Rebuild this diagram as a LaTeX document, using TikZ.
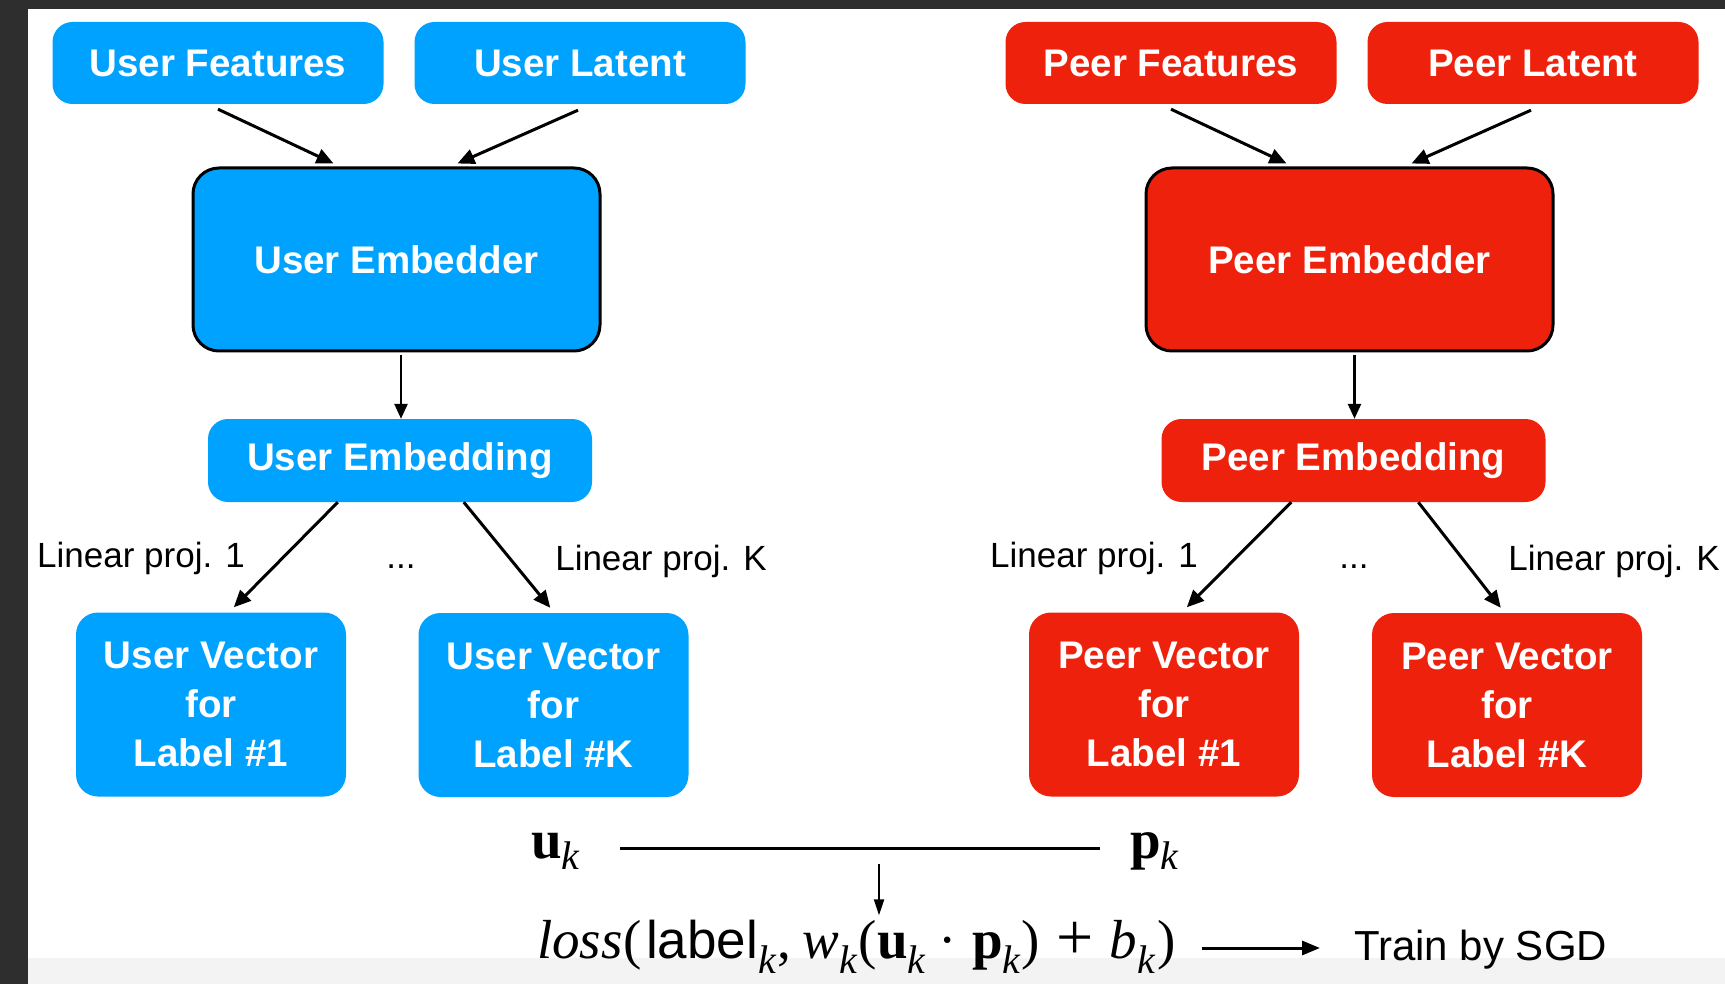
\documentclass[tikz,border=0pt]{standalone}
\usepackage{fontspec}
\setmainfont{Liberation Sans}
\newfontfamily\tms{Liberation Serif}
\newfontfamily\hel{Liberation Sans}
\usetikzlibrary{arrows.meta,calc}
\definecolor{kblue}{RGB}{0,162,255}
\definecolor{kred}{RGB}{238,34,12}
\definecolor{frame}{RGB}{46,46,46}
\definecolor{strip}{RGB}{243,243,243}
\newcommand{\mysubk}{\raisebox{-15pt}{\fontsize{40}{40}\selectfont\tms\itshape k}}
\newcommand{\mysubkk}{\raisebox{-11pt}{\fontsize{40}{40}\selectfont\tms\itshape k}}
\begin{document}
\begin{tikzpicture}[x=1pt,y=-1pt,
  box/.style={rounded corners=20pt, inner sep=0pt, text=white, align=center,
    font=\fontsize{38.5}{49}\selectfont\bfseries},
  ublue/.style={box, fill=kblue},
  pred/.style={box, fill=kred},
  topbox/.style={minimum width=331pt, minimum height=82pt},
  embbox/.style={draw=black, line width=3pt, rounded corners=26pt, minimum width=407pt, minimum height=183pt},
  midbox/.style={minimum width=384pt, minimum height=83pt},
  vecbox/.style={minimum width=270pt, minimum height=184pt, rounded corners=22pt},
  lbl/.style={anchor=base, inner sep=0pt, font=\fontsize{35}{40}\selectfont},
  mtxt/.style={inner sep=0pt, font=\fontsize{55}{60}\selectfont},
  arr/.style={line width=3pt, -{Triangle[length=17pt,width=15pt]}},
  arrv/.style={line width=2.5pt, -{Triangle[length=15pt,width=13pt]}},
  arrs/.style={line width=2pt, -{Triangle[length=16pt,width=10pt]}},
  arrb/.style={line width=3pt, -{Triangle[length=18pt,width=14pt]}},
  plain/.style={line width=3pt}
]
\useasboundingbox (0,0) rectangle (1725,984);
\fill[white] (0,0) rectangle (1725,984);
\fill[strip] (28,958) rectangle (1725,984);
\fill[frame] (0,0) rectangle (1725,9);
\fill[frame] (0,0) rectangle (28,984);

% user side
\node[ublue, topbox] (uf) at (218,63) {User Features};
\node[ublue, topbox] (ul) at (580,63) {User Latent};
\node[ublue, embbox] (uemb) at (396.5,259.5) {User Embedder};
\node[ublue, midbox] (uembd) at (400,460.5) {User Embedding};
\node[ublue, vecbox] (uv1) at (211,704.5) {User Vector\\for\\Label \#1};
\node[ublue, vecbox] (uvk) at (553.5,705) {User Vector\\for\\Label \#K};

% peer side
\node[pred, topbox] (pf) at (1171,63) {Peer Features};
\node[pred, topbox] (pl) at (1533,63) {Peer Latent};
\node[pred, embbox] (pemb) at (1349.5,259.5) {Peer Embedder};
\node[pred, midbox] (pembd) at (1353.5,460.5) {Peer Embedding};
\node[pred, vecbox] (pv1) at (1164,704.5) {Peer Vector\\for\\Label \#1};
\node[pred, vecbox] (pvk) at (1507,705) {Peer Vector\\for\\Label \#K};

% user arrows
\draw[arr] ($(uf.south)+(0,5)$) -- ($(uemb.north west)+(142,-3)$);
\draw[arr] ($(ul.south)+(-2,6)$) -- ($(uemb.north west)+(266,-3)$);
\draw[arrv] ($(uemb.south -| uembd.north)+(1,3)$) -- ($(uembd.north)+(1,0)$);
\draw[arr] ($(uembd.south west)+(130,0)$) -- ($(uv1.north west)+(158,-5)$);
\draw[arr] ($(uembd.south west)+(256,0)$) -- ($(uvk.north west)+(132,-5)$);

% peer arrows
\draw[arr] ($(pf.south)+(0,5)$) -- ($(pemb.north west)+(142,-3)$);
\draw[arr] ($(pl.south)+(-2,6)$) -- ($(pemb.north west)+(267,-3)$);
\draw[arrv] ($(pemb.south -| pembd.north)+(1,3)$) -- ($(pembd.north)+(1,0)$);
\draw[arr] ($(pembd.south west)+(130,0)$) -- ($(pv1.north west)+(158,-5)$);
\draw[arr] ($(pembd.south west)+(257,0)$) -- ($(pvk.north west)+(129,-5)$);

% projection labels
\node[lbl] (ulp1) at (141,567) {Linear proj. 1};
\node[lbl] (udots) at (401,568) {...};
\node[lbl] (ulpk) at (661,570) {Linear proj. K};
\node[lbl] (plp1) at (1094,567) {Linear proj. 1};
\node[lbl] (pdots) at (1354,568) {...};
\node[lbl] (plpk) at (1614,570) {Linear proj. K};

% bottom formula
\node[mtxt, anchor=base west] (uk) at (531,858) {{\tms\bfseries u}\mysubkk};
\node[mtxt, anchor=base west] (pk) at (1130,858) {{\tms\bfseries p}\mysubkk};
\draw[plain] ($(uk.base east)+(40,-10)$) -- ($(pk.base west)+(-30,-10)$);
\node[mtxt, anchor=base west] (loss) at (537,958)
  {{\tms\itshape loss}\kern1pt{\tms(}\kern4pt{\hel\fontsize{53}{60}\selectfont label}\mysubk\kern2pt{\tms,}\kern11pt{\tms\itshape w}\mysubk\kern1pt{\tms(}\kern1pt{\tms\bfseries u}\mysubk\kern13pt{\tms·}\kern15pt{\tms\bfseries p}\mysubk\kern1pt{\tms)}\kern17pt\raisebox{-1pt}{\fontsize{66}{66}\selectfont\tms +}\kern16pt{\tms\itshape b}\mysubk\kern2pt{\tms)}};
\coordinate (dtop) at (879,864);
\draw[arrs] (dtop) -- ($(loss.north -| dtop)+(0,-4)$);
\node[anchor=base west, inner sep=0pt, font=\fontsize{42}{48}\selectfont] (sgd) at (1354,960) {Train by SGD};
\draw[arrb] ($(loss.base east)+(26,-10)$) -- ($(sgd.base west)+(-34,-12)$);
\end{tikzpicture}
\end{document}
